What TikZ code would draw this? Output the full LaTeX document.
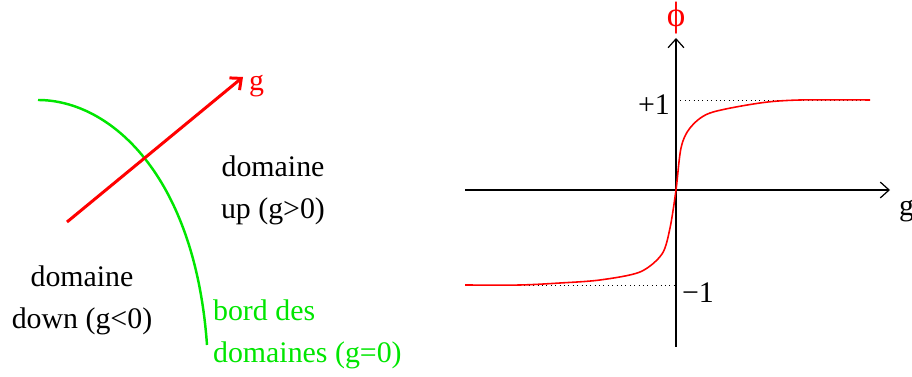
\documentclass[tikz,border=0pt]{standalone}
\usepackage{fontspec}
\setmainfont{Liberation Serif}
\usepackage{xcolor}
\usetikzlibrary{arrows.meta,calc,positioning}
\definecolor{bordgreen}{RGB}{0,230,0}
\definecolor{phired}{RGB}{255,0,0}
\newcommand{\BigText}{\fontsize{17}{24}\selectfont}
\tikzset{
  axis/.style={draw=black, line width=0.7pt, -{Straight Barb[length=5pt,width=9pt]}},
  gradArrow/.style={draw=phired, line width=1.7pt, -{Straight Barb[length=5pt,width=9pt]}},
  interface/.style={draw=bordgreen, line width=1.4pt},
  profile/.style={draw=phired, line width=0.9pt},
  guide/.style={draw=black, line width=0.5pt, dotted},
  lbl/.style={inner sep=1pt, font=\BigText}
}
\begin{document}
\begin{tikzpicture}[x=0.02cm, y=-0.02cm]
  \useasboundingbox (0,0) rectangle (912,377);

  % --- gauche : interface et gradient ---
  \coordinate (gTail) at (67,222);
  \coordinate (gTip) at (243,77);
  \coordinate (bordTop) at (38,100);
  \coordinate (bordBot) at (207,345);
  \draw[interface] (bordTop) .. controls (110,100) and (195,175) .. (bordBot);
  \draw[gradArrow] (gTail) -- (gTip);
  \node[lbl, text=phired, anchor=west] (gLeft) at (247,86) {g};
  \node[lbl, align=center] (domUp) at (273,190) {domaine\\up (g>0)};
  \node[lbl, align=center] (domDown) at (82,300) {domaine\\down (g<0)};
  \node[lbl, text=bordgreen, align=left, anchor=west] (bordTxt) at (211,334) {bord des\\domaines (g=0)};

  % --- droite : profil de phi ---
  \coordinate (orig) at (676,190);
  \coordinate (xStart) at (465,190);
  \coordinate (xEnd) at (890,190);
  \coordinate (yStart) at (676,347);
  \coordinate (yEnd) at (676,38);
  \draw[axis] (xStart) -- (xEnd);
  \draw[axis] (yStart) -- (yEnd);
  \node[lbl, anchor=west] (gRight) at (897,211) {g};
  \node[lbl, text=phired, font=\fontsize{20}{22}\selectfont] (phiLbl) at (676,18) {ϕ};
  \node[lbl, anchor=east] (plusOne) at (672,105) {+1};
  \node[lbl, anchor=west] (minusOne) at (680,293) {−1};
  \draw[guide] (yEnd |- plusOne.east) ++(0,-5) coordinate (pA) -- (870,100);
  \draw[guide] (520,285) -- (orig |- 0,285);
  \draw[profile] plot[smooth, tension=0.5] coordinates {
    (465,285) (520,285) (560,283) (600,280) (640,272) (662,254) (670,228)
    (676,190) (681,148) (690,128) (710,113) (760,103) (800,100) (870,100)};
\end{tikzpicture}
\end{document}
